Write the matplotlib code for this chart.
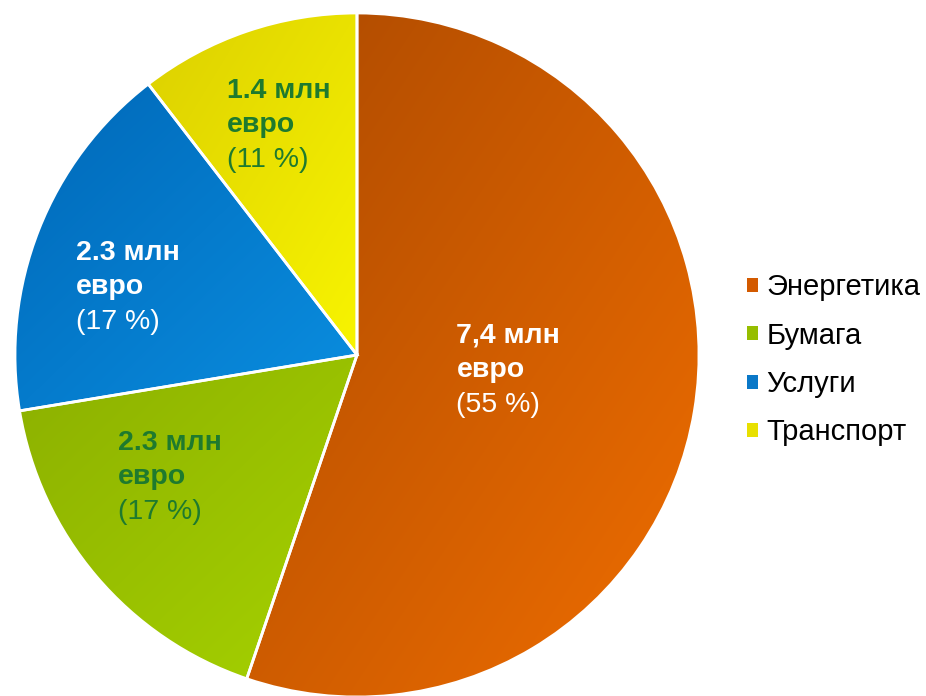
import numpy as np
import matplotlib.pyplot as plt
from matplotlib.patches import Patch
from matplotlib.colors import to_rgb

# values in million euro
categories = ["Энергетика", "Бумага", "Услуги", "Транспорт"]
values = [7.4, 2.3, 2.3, 1.4]
value_labels = ["7,4 млн\nевро", "2.3 млн\nевро", "2.3 млн\nевро", "1.4 млн\nевро"]
pct_labels = ["(55 %)", "(17 %)", "(17 %)", "(11 %)"]

# gradient colours per slice (dark top-left -> light bottom-right)
dark = ["#ad4a00", "#8cb000", "#0068b8", "#dcd000"]
light = ["#f06e00", "#a6d200", "#0a8ee0", "#f8f400"]
legend_colors = ["#d35a00", "#96be00", "#0a78c8", "#e8e000"]
text_colors = ["white", "#1e7a2e", "white", "#1e7a2e"]

# label placement (distance from centre, angle nudge in degrees)
label_dist = [0.45, 0.675, 0.69, 0.675]
label_nudge = [-1, -4.5, 8, 1]

plt.rcParams["font.family"] = ["Liberation Sans", "DejaVu Sans"]

fig = plt.figure(figsize=(9.26, 6.96), dpi=100)
R = 342
cx, cy = 357, 696 - 355
ax = fig.add_axes([(cx - R) / 926, (cy - R) / 696, 2 * R / 926, 2 * R / 696])

wedges, _ = ax.pie(
    values,
    startangle=90,
    counterclock=False,
    radius=1,
    wedgeprops={"linewidth": 2, "edgecolor": "white", "facecolor": "none"},
)

# fill each wedge with a diagonal gradient clipped to its shape
for w, c0, c1 in zip(wedges, dark, light):
    ext = w.get_path().get_extents()
    n = 200
    xx, yy = np.meshgrid(np.linspace(0, 1, n), np.linspace(0, 1, n))
    t = (xx + yy) / 2
    c0 = np.array(to_rgb(c0))
    c1 = np.array(to_rgb(c1))
    img = c0 + t[..., None] * (c1 - c0)
    im = ax.imshow(img, extent=[ext.x0, ext.x1, ext.y0, ext.y1], origin="upper",
                   zorder=0.5, interpolation="bilinear")
    im.set_clip_path(w)
    w.set_zorder(1)

ax.set_xlim(-1, 1)
ax.set_ylim(-1, 1)
ax.set_aspect("equal")
ax.axis("off")

fig.canvas.draw()
renderer = fig.canvas.get_renderer()

for w, lab, pct, col, d, nud in zip(wedges, value_labels, pct_labels,
                                    text_colors, label_dist, label_nudge):
    ang = np.deg2rad((w.theta1 + w.theta2) / 2 + nud)
    x, y = d * np.cos(ang), d * np.sin(ang)
    t1 = ax.text(x, y, lab, ha="center", va="bottom", multialignment="left",
                 fontsize=20.5, fontweight="bold", color=col, linespacing=1.4)
    bb = t1.get_window_extent(renderer)
    fig.text(bb.x0 / fig.bbox.width, (bb.y0 - 9) / fig.bbox.height, pct,
             ha="left", va="top", fontsize=20.5, color=col)

handles = [Patch(facecolor=c, edgecolor="none") for c in legend_colors]
fig.legend(handles, categories, loc="center left",
           bbox_to_anchor=(747 / 926, 0.483), frameon=False, fontsize=21,
           borderpad=0, borderaxespad=0,
           handlelength=0.36, handleheight=0.36, handletextpad=0.3,
           labelspacing=0.7)

fig.savefig("out.png", dpi=100)
